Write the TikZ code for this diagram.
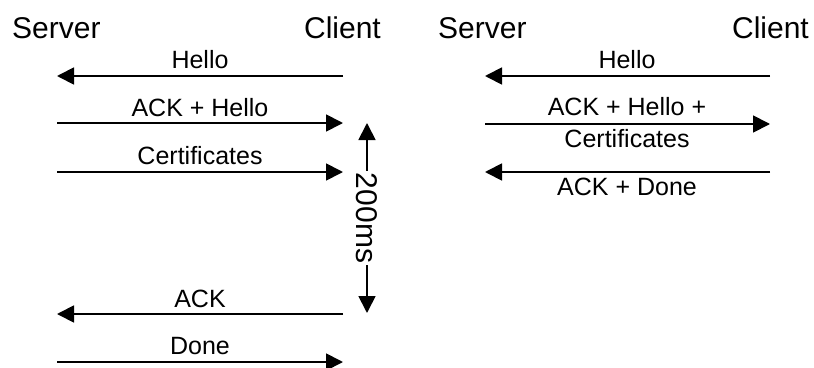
\documentclass[tikz,border=0pt]{standalone}
\usepackage{fontspec}
\setmainfont{Liberation Sans}
\usetikzlibrary{arrows.meta}
\begin{document}
\begin{tikzpicture}[x=1pt,y=-1pt,
  tip/.tip={Triangle[length=17pt,width=17pt]},
  msg/.style={line width=1.8pt,-tip},
  span/.style={line width=1.8pt,tip-tip},
  party/.style={inner sep=0pt,font=\fontsize{30}{36}\selectfont},
  lbl/.style={inner sep=0pt,anchor=base,font=\fontsize{25}{30}\selectfont},
  lblbig/.style={inner sep=2pt,fill=white,font=\fontsize{30}{36}\selectfont}]
\useasboundingbox (0,0) rectangle (814,367);

% ---- first exchange: separate messages ----
\node[party,anchor=base west] (srvA) at (12,38) {Server};
\node[party,anchor=base east] (cliA) at (381,38) {Client};

\coordinate (a1l) at (57,76);  \coordinate (a1r) at (343,76);
\coordinate (a2l) at (57,123); \coordinate (a2r) at (343,123);
\coordinate (a3l) at (57,172); \coordinate (a3r) at (343,172);
\coordinate (a4l) at (57,314); \coordinate (a4r) at (343,314);
\coordinate (a5l) at (57,362); \coordinate (a5r) at (343,362);

\draw[msg] (a1r) -- (a1l);
\draw[msg] (a2l) -- (a2r);
\draw[msg] (a3l) -- (a3r);
\draw[msg] (a4r) -- (a4l);
\draw[msg] (a5l) -- (a5r);

\node[lbl] (la1) at (200,68) {Hello};
\node[lbl] (la2) at (200,116) {ACK + Hello};
\node[lbl] (la3) at (200,164) {Certificates};
\node[lbl] (la4) at (200,307) {ACK};
\node[lbl] (la5) at (200,354) {Done};

% round-trip delay marker
\coordinate (dtop) at (367,123);
\coordinate (dbot) at (367,313);
\draw[span] (dtop) -- node[lblbig,rotate=-90] (delay) {200ms} (dbot);

% ---- second exchange: combined messages ----
\node[party,anchor=base west] (srvB) at (438,38) {Server};
\node[party,anchor=base east] (cliB) at (809,38) {Client};

\coordinate (b1l) at (485,76);  \coordinate (b1r) at (770,76);
\coordinate (b2l) at (485,124); \coordinate (b2r) at (770,124);
\coordinate (b3l) at (485,172); \coordinate (b3r) at (770,172);

\draw[msg] (b1r) -- (b1l);
\draw[msg] (b2l) -- (b2r);
\draw[msg] (b3r) -- (b3l);

\node[lbl] (lb1) at (627,68) {Hello};
\node[lbl] (lb2) at (627,115) {ACK + Hello +};
\node[lbl] (lb3) at (627,147) {Certificates};
\node[lbl] (lb4) at (627,195) {ACK + Done};
\end{tikzpicture}
\end{document}
